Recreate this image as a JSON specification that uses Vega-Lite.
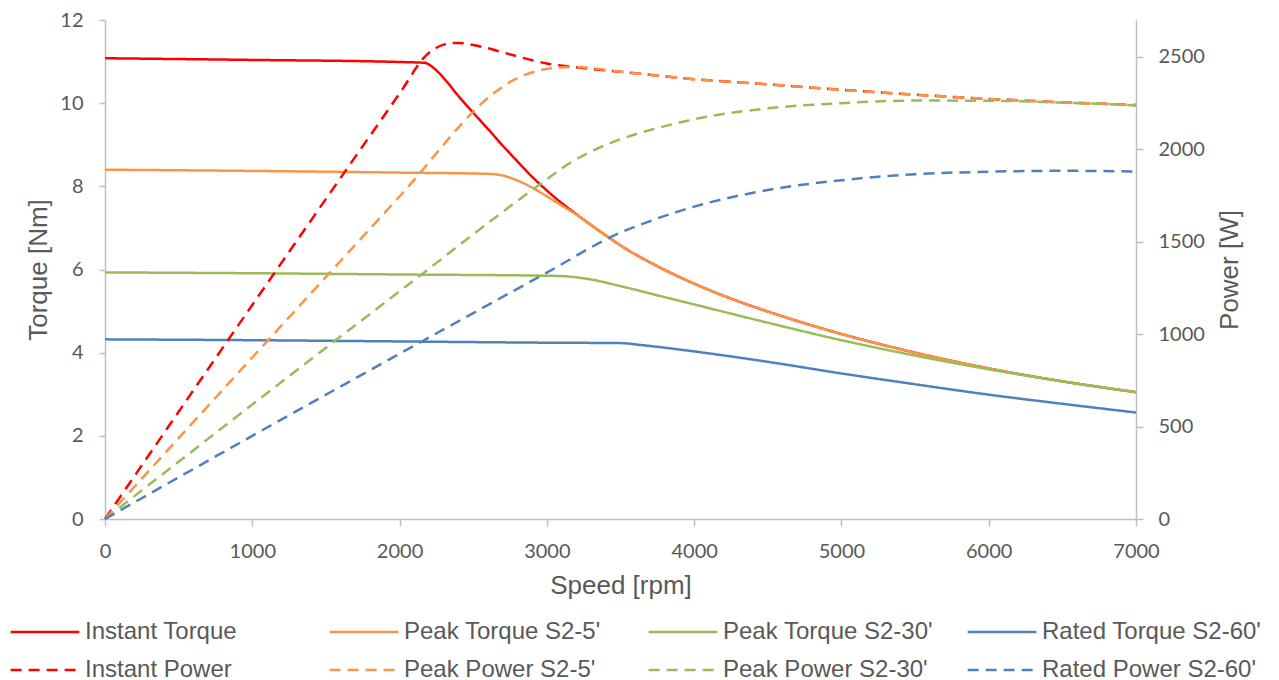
{
  "$schema": "https://vega.github.io/schema/vega-lite/v6.json",
  "width": 1031,
  "height": 499,
  "autosize": {"type": "none"},
  "padding": {"left": 105, "top": 20, "right": 143, "bottom": 161},
  "background": "white",
  "config": {
    "view": {"stroke": null},
    "font": "Liberation Sans",
    "axis": {
      "grid": false,
      "domainColor": "#bfbfbf",
      "tickColor": "#bfbfbf",
      "domainWidth": 1.5,
      "tickWidth": 1.5,
      "labelColor": "#595959",
      "titleColor": "#595959",
      "labelFont": "Lato",
      "labelFontSize": 20,
      "titleFont": "Liberation Sans",
      "titleFontSize": 26,
      "titleFontWeight": "normal",
      "format": "d"
    }
  },
  "datasets": {
    "torque": [
      {"series": "Instant Torque", "speed": 0, "value": 11.08},
      {"series": "Instant Torque", "speed": 1000, "value": 11.04},
      {"series": "Instant Torque", "speed": 2000, "value": 10.99},
      {"series": "Instant Torque", "speed": 2170, "value": 10.97},
      {"series": "Instant Torque", "speed": 2220, "value": 10.88},
      {"series": "Instant Torque", "speed": 2270, "value": 10.72},
      {"series": "Instant Torque", "speed": 2320, "value": 10.52},
      {"series": "Instant Torque", "speed": 2400, "value": 10.17},
      {"series": "Instant Torque", "speed": 2500, "value": 9.77},
      {"series": "Instant Torque", "speed": 2600, "value": 9.38},
      {"series": "Instant Torque", "speed": 2700, "value": 8.98},
      {"series": "Instant Torque", "speed": 2800, "value": 8.6},
      {"series": "Instant Torque", "speed": 2900, "value": 8.23},
      {"series": "Instant Torque", "speed": 3000, "value": 7.9},
      {"series": "Instant Torque", "speed": 3100, "value": 7.6},
      {"series": "Instant Torque", "speed": 3200, "value": 7.33},
      {"series": "Instant Torque", "speed": 3300, "value": 7.07},
      {"series": "Instant Torque", "speed": 3400, "value": 6.82},
      {"series": "Instant Torque", "speed": 3500, "value": 6.58},
      {"series": "Instant Torque", "speed": 3750, "value": 6.08},
      {"series": "Instant Torque", "speed": 4000, "value": 5.66},
      {"series": "Instant Torque", "speed": 4250, "value": 5.3},
      {"series": "Instant Torque", "speed": 4500, "value": 4.99},
      {"series": "Instant Torque", "speed": 5000, "value": 4.45},
      {"series": "Instant Torque", "speed": 5500, "value": 4.0},
      {"series": "Instant Torque", "speed": 6000, "value": 3.62},
      {"series": "Instant Torque", "speed": 6500, "value": 3.31},
      {"series": "Instant Torque", "speed": 7000, "value": 3.05},

      {"series": "Peak Torque S2-5'", "speed": 0, "value": 8.4},
      {"series": "Peak Torque S2-5'", "speed": 1000, "value": 8.37},
      {"series": "Peak Torque S2-5'", "speed": 2000, "value": 8.33},
      {"series": "Peak Torque S2-5'", "speed": 2600, "value": 8.3},
      {"series": "Peak Torque S2-5'", "speed": 2700, "value": 8.26},
      {"series": "Peak Torque S2-5'", "speed": 2800, "value": 8.14},
      {"series": "Peak Torque S2-5'", "speed": 2900, "value": 7.97},
      {"series": "Peak Torque S2-5'", "speed": 3000, "value": 7.76},
      {"series": "Peak Torque S2-5'", "speed": 3100, "value": 7.54},
      {"series": "Peak Torque S2-5'", "speed": 3200, "value": 7.32},
      {"series": "Peak Torque S2-5'", "speed": 3300, "value": 7.07},
      {"series": "Peak Torque S2-5'", "speed": 3400, "value": 6.82},
      {"series": "Peak Torque S2-5'", "speed": 3500, "value": 6.58},
      {"series": "Peak Torque S2-5'", "speed": 3750, "value": 6.08},
      {"series": "Peak Torque S2-5'", "speed": 4000, "value": 5.66},
      {"series": "Peak Torque S2-5'", "speed": 4250, "value": 5.3},
      {"series": "Peak Torque S2-5'", "speed": 4500, "value": 4.99},
      {"series": "Peak Torque S2-5'", "speed": 5000, "value": 4.45},
      {"series": "Peak Torque S2-5'", "speed": 5500, "value": 4.0},
      {"series": "Peak Torque S2-5'", "speed": 6000, "value": 3.62},
      {"series": "Peak Torque S2-5'", "speed": 6500, "value": 3.31},
      {"series": "Peak Torque S2-5'", "speed": 7000, "value": 3.05},

      {"series": "Peak Torque S2-30'", "speed": 0, "value": 5.93},
      {"series": "Peak Torque S2-30'", "speed": 1000, "value": 5.91},
      {"series": "Peak Torque S2-30'", "speed": 2000, "value": 5.88},
      {"series": "Peak Torque S2-30'", "speed": 3000, "value": 5.85},
      {"series": "Peak Torque S2-30'", "speed": 3150, "value": 5.83},
      {"series": "Peak Torque S2-30'", "speed": 3300, "value": 5.76},
      {"series": "Peak Torque S2-30'", "speed": 3500, "value": 5.6},
      {"series": "Peak Torque S2-30'", "speed": 3750, "value": 5.38},
      {"series": "Peak Torque S2-30'", "speed": 4000, "value": 5.16},
      {"series": "Peak Torque S2-30'", "speed": 4500, "value": 4.72},
      {"series": "Peak Torque S2-30'", "speed": 5000, "value": 4.3},
      {"series": "Peak Torque S2-30'", "speed": 5500, "value": 3.93},
      {"series": "Peak Torque S2-30'", "speed": 6000, "value": 3.6},
      {"series": "Peak Torque S2-30'", "speed": 6500, "value": 3.31},
      {"series": "Peak Torque S2-30'", "speed": 7000, "value": 3.05},

      {"series": "Rated Torque S2-60'", "speed": 0, "value": 4.32},
      {"series": "Rated Torque S2-60'", "speed": 1000, "value": 4.3},
      {"series": "Rated Torque S2-60'", "speed": 2000, "value": 4.27},
      {"series": "Rated Torque S2-60'", "speed": 3000, "value": 4.24},
      {"series": "Rated Torque S2-60'", "speed": 3500, "value": 4.23},
      {"series": "Rated Torque S2-60'", "speed": 3650, "value": 4.18},
      {"series": "Rated Torque S2-60'", "speed": 3800, "value": 4.12},
      {"series": "Rated Torque S2-60'", "speed": 4000, "value": 4.03},
      {"series": "Rated Torque S2-60'", "speed": 4500, "value": 3.78},
      {"series": "Rated Torque S2-60'", "speed": 5000, "value": 3.5},
      {"series": "Rated Torque S2-60'", "speed": 5500, "value": 3.24},
      {"series": "Rated Torque S2-60'", "speed": 6000, "value": 2.99},
      {"series": "Rated Torque S2-60'", "speed": 6500, "value": 2.77},
      {"series": "Rated Torque S2-60'", "speed": 7000, "value": 2.56}
    ],
    "power": [
      {"series": "Instant Power", "speed": 0, "value": 0},
      {"series": "Instant Power", "speed": 1000, "value": 1158},
      {"series": "Instant Power", "speed": 2000, "value": 2302},
      {"series": "Instant Power", "speed": 2186, "value": 2513},
      {"series": "Instant Power", "speed": 2250, "value": 2550},
      {"series": "Instant Power", "speed": 2300, "value": 2567},
      {"series": "Instant Power", "speed": 2350, "value": 2575},
      {"series": "Instant Power", "speed": 2400, "value": 2576},
      {"series": "Instant Power", "speed": 2500, "value": 2565},
      {"series": "Instant Power", "speed": 2600, "value": 2547},
      {"series": "Instant Power", "speed": 2700, "value": 2525},
      {"series": "Instant Power", "speed": 2800, "value": 2503},
      {"series": "Instant Power", "speed": 2900, "value": 2482},
      {"series": "Instant Power", "speed": 3000, "value": 2465},
      {"series": "Instant Power", "speed": 3177, "value": 2446},
      {"series": "Instant Power", "speed": 3500, "value": 2420},
      {"series": "Instant Power", "speed": 4000, "value": 2380},
      {"series": "Instant Power", "speed": 4500, "value": 2352},
      {"series": "Instant Power", "speed": 5000, "value": 2322},
      {"series": "Instant Power", "speed": 5500, "value": 2296},
      {"series": "Instant Power", "speed": 6000, "value": 2273},
      {"series": "Instant Power", "speed": 6500, "value": 2255},
      {"series": "Instant Power", "speed": 7000, "value": 2240},

      {"series": "Peak Power S2-5'", "speed": 0, "value": 0},
      {"series": "Peak Power S2-5'", "speed": 1000, "value": 874},
      {"series": "Peak Power S2-5'", "speed": 2000, "value": 1745},
      {"series": "Peak Power S2-5'", "speed": 2650, "value": 2310},
      {"series": "Peak Power S2-5'", "speed": 2750, "value": 2365},
      {"series": "Peak Power S2-5'", "speed": 2850, "value": 2403},
      {"series": "Peak Power S2-5'", "speed": 2950, "value": 2427},
      {"series": "Peak Power S2-5'", "speed": 3050, "value": 2440},
      {"series": "Peak Power S2-5'", "speed": 3177, "value": 2446},
      {"series": "Peak Power S2-5'", "speed": 3500, "value": 2420},
      {"series": "Peak Power S2-5'", "speed": 4000, "value": 2380},
      {"series": "Peak Power S2-5'", "speed": 4500, "value": 2352},
      {"series": "Peak Power S2-5'", "speed": 5000, "value": 2322},
      {"series": "Peak Power S2-5'", "speed": 5500, "value": 2296},
      {"series": "Peak Power S2-5'", "speed": 6000, "value": 2273},
      {"series": "Peak Power S2-5'", "speed": 6500, "value": 2255},
      {"series": "Peak Power S2-5'", "speed": 7000, "value": 2240},

      {"series": "Peak Power S2-30'", "speed": 0, "value": 0},
      {"series": "Peak Power S2-30'", "speed": 1000, "value": 619},
      {"series": "Peak Power S2-30'", "speed": 2000, "value": 1232},
      {"series": "Peak Power S2-30'", "speed": 3000, "value": 1838},
      {"series": "Peak Power S2-30'", "speed": 3150, "value": 1923},
      {"series": "Peak Power S2-30'", "speed": 3300, "value": 1988},
      {"series": "Peak Power S2-30'", "speed": 3500, "value": 2055},
      {"series": "Peak Power S2-30'", "speed": 3750, "value": 2115},
      {"series": "Peak Power S2-30'", "speed": 4000, "value": 2163},
      {"series": "Peak Power S2-30'", "speed": 4500, "value": 2222},
      {"series": "Peak Power S2-30'", "speed": 5000, "value": 2250},
      {"series": "Peak Power S2-30'", "speed": 5500, "value": 2264},
      {"series": "Peak Power S2-30'", "speed": 6000, "value": 2263},
      {"series": "Peak Power S2-30'", "speed": 6500, "value": 2253},
      {"series": "Peak Power S2-30'", "speed": 7000, "value": 2238},

      {"series": "Rated Power S2-60'", "speed": 0, "value": 0},
      {"series": "Rated Power S2-60'", "speed": 1000, "value": 450},
      {"series": "Rated Power S2-60'", "speed": 2000, "value": 894},
      {"series": "Rated Power S2-60'", "speed": 3000, "value": 1333},
      {"series": "Rated Power S2-60'", "speed": 3500, "value": 1550},
      {"series": "Rated Power S2-60'", "speed": 3650, "value": 1597},
      {"series": "Rated Power S2-60'", "speed": 3800, "value": 1640},
      {"series": "Rated Power S2-60'", "speed": 4000, "value": 1690},
      {"series": "Rated Power S2-60'", "speed": 4500, "value": 1780},
      {"series": "Rated Power S2-60'", "speed": 5000, "value": 1833},
      {"series": "Rated Power S2-60'", "speed": 5500, "value": 1866},
      {"series": "Rated Power S2-60'", "speed": 6000, "value": 1879},
      {"series": "Rated Power S2-60'", "speed": 6500, "value": 1884},
      {"series": "Rated Power S2-60'", "speed": 7000, "value": 1880}
    ]
  },
  "encoding": {
    "x": {
      "field": "speed",
      "type": "quantitative",
      "scale": {"domain": [0, 7000], "nice": false},
      "axis": {
        "title": "Speed [rpm]",
        "values": [0, 1000, 2000, 3000, 4000, 5000, 6000, 7000],
        "tickSize": 7,
        "labelPadding": 15,
        "titlePadding": 11,
        "labelFlush": false
      }
    },
    "color": {
      "field": "series",
      "type": "nominal",
      "scale": {
        "domain": ["Instant Torque", "Peak Torque S2-5'", "Peak Torque S2-30'", "Rated Torque S2-60'", "Instant Power", "Peak Power S2-5'", "Peak Power S2-30'", "Rated Power S2-60'"],
        "range": ["#ff0000", "#f79646", "#9bbb59", "#4f81bd", "#ff0000", "#f79646", "#9bbb59", "#4f81bd"]
      },
      "legend": {
        "title": null,
        "orient": "none",
        "legendX": -75,
        "legendY": 597,
        "direction": "horizontal",
        "columns": 4,
        "gridAlign": "all",
        "columnPadding": 19,
        "rowPadding": 11,
        "symbolType": "M-2.5,0H2.5",
        "symbolSize": 756,
        "symbolStrokeWidth": 2.5,
        "labelFont": "Liberation Sans",
        "labelFontSize": 24,
        "labelColor": "#595959",
        "labelLimit": 400,
        "labelOffset": 25
      }
    },
    "strokeDash": {
      "field": "series",
      "type": "nominal",
      "scale": {
        "domain": ["Instant Torque", "Peak Torque S2-5'", "Peak Torque S2-30'", "Rated Torque S2-60'", "Instant Power", "Peak Power S2-5'", "Peak Power S2-30'", "Rated Power S2-60'"],
        "range": [[1, 0], [1, 0], [1, 0], [1, 0], [11, 7], [11, 7], [11, 7], [11, 7]]
      },
      "legend": {
        "title": null,
        "orient": "none",
        "legendX": -75,
        "legendY": 597,
        "direction": "horizontal",
        "columns": 4,
        "gridAlign": "all",
        "columnPadding": 19,
        "rowPadding": 11,
        "symbolType": "M-2.5,0H2.5",
        "symbolSize": 756,
        "symbolStrokeWidth": 2.5,
        "labelFont": "Liberation Sans",
        "labelFontSize": 24,
        "labelColor": "#595959",
        "labelLimit": 400,
        "labelOffset": 25
      }
    }
  },
  "layer": [
    {
      "data": {"name": "torque"},
      "mark": {"type": "line", "strokeWidth": 2.5, "interpolate": "monotone"},
      "encoding": {
        "y": {
          "field": "value",
          "type": "quantitative",
          "scale": {"domain": [0, 12], "nice": false},
          "axis": {
            "title": "Torque [Nm]",
            "orient": "left",
            "values": [0, 2, 4, 6, 8, 10, 12],
            "tickSize": 6,
            "labelPadding": 16,
            "titlePadding": 8
          }
        }
      }
    },
    {
      "data": {"name": "power"},
      "mark": {"type": "line", "strokeWidth": 2.5, "interpolate": "monotone"},
      "encoding": {
        "y": {
          "field": "value",
          "type": "quantitative",
          "scale": {"domain": [0, 2700], "nice": false},
          "axis": {
            "title": "Power [W]",
            "orient": "right",
            "values": [0, 500, 1000, 1500, 2000, 2500],
            "tickSize": 7,
            "labelPadding": 15,
            "titlePadding": 12,
            "titleAngle": -90,
            "titleBaseline": "top"
          }
        }
      }
    }
  ],
  "resolve": {"scale": {"y": "independent"}}
}
